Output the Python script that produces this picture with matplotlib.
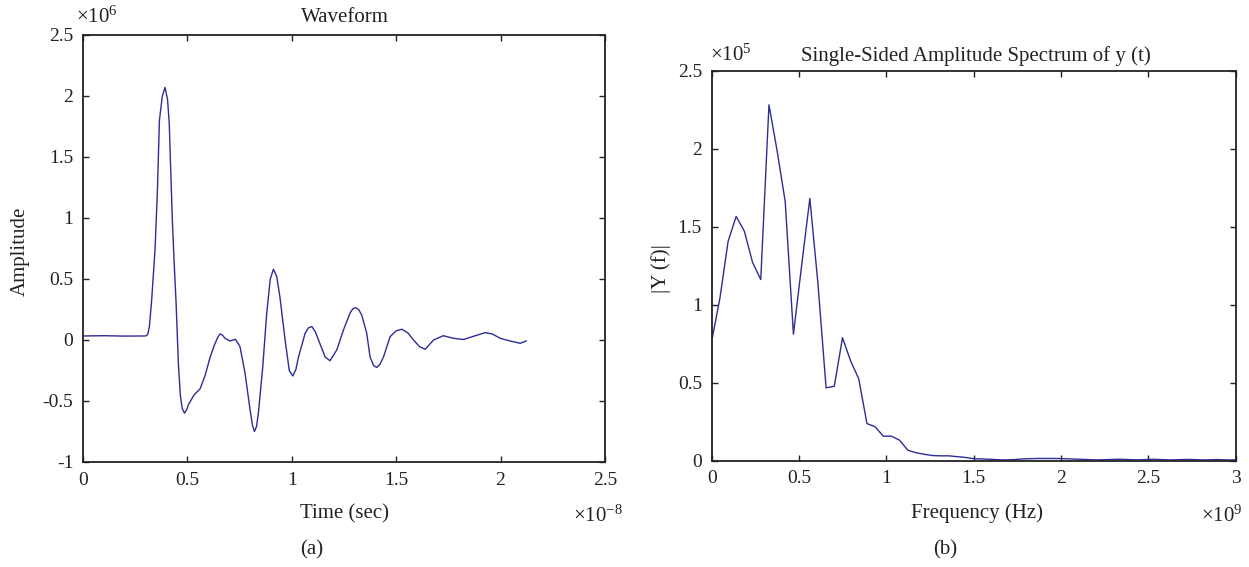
import matplotlib
matplotlib.use("Agg")
import matplotlib.pyplot as plt
from matplotlib.ticker import FuncFormatter

# Ustawienia czcionek (styl podobny do MATLAB-a / publikacji)
plt.rcParams["font.family"] = ["Liberation Serif", "DejaVu Serif"]
plt.rcParams["mathtext.fontset"] = "custom"
plt.rcParams["mathtext.rm"] = "Liberation Serif"
plt.rcParams["mathtext.default"] = "regular"
plt.rcParams["axes.unicode_minus"] = False

line_color = "#2d2d96"

# Przebieg czasowy: czas [x1e-8 s], amplituda [x1e6]
time_s = [0.0, 0.1, 0.2, 0.30, 0.31, 0.318, 0.329, 0.345, 0.356, 0.366, 0.38, 0.393,
          0.405, 0.413, 0.420, 0.428, 0.437, 0.446, 0.457, 0.466, 0.475, 0.486, 0.497,
          0.505, 0.532, 0.561, 0.585, 0.609, 0.632, 0.645, 0.656, 0.668, 0.68, 0.704,
          0.73, 0.752, 0.776, 0.80, 0.812, 0.821, 0.831, 0.84, 0.861, 0.88, 0.897,
          0.912, 0.928, 0.943, 0.968, 0.988, 1.005, 1.02, 1.032, 1.064, 1.08, 1.096,
          1.112, 1.128, 1.16, 1.183, 1.216, 1.247, 1.279, 1.292, 1.305, 1.32, 1.335,
          1.359, 1.375, 1.392, 1.407, 1.422, 1.439, 1.471, 1.5, 1.527, 1.555, 1.583,
          1.612, 1.639, 1.679, 1.726, 1.774, 1.822, 1.87, 1.926, 1.96, 1.998, 2.05,
          2.094, 2.123]
amplitude = [0.033, 0.035, 0.032, 0.033, 0.045, 0.11, 0.33, 0.74, 1.2, 1.80, 2.0, 2.07,
             1.97, 1.78, 1.40, 0.98, 0.62, 0.30, -0.20, -0.45, -0.56, -0.60, -0.57,
             -0.53, -0.45, -0.40, -0.29, -0.14, -0.03, 0.02, 0.05, 0.04, 0.014, -0.008,
             0.006, -0.055, -0.27, -0.57, -0.70, -0.75, -0.71, -0.60, -0.22, 0.22, 0.50,
             0.58, 0.52, 0.355, 0.0, -0.25, -0.295, -0.24, -0.14, 0.055, 0.10, 0.11,
             0.07, 0.0, -0.14, -0.17, -0.08, 0.08, 0.22, 0.255, 0.265, 0.25, 0.205,
             0.055, -0.14, -0.21, -0.225, -0.2, -0.14, 0.027, 0.075, 0.088, 0.06, 0.0,
             -0.055, -0.076, 0.0, 0.035, 0.014, 0.004, 0.03, 0.06, 0.05, 0.014, -0.01,
             -0.027, -0.008]

# Widmo amplitudowe: częstotliwość [x1e9 Hz], |Y(f)| [x1e5]
freq_hz = [0.0, 0.047, 0.094, 0.140, 0.187, 0.234, 0.281, 0.328, 0.374, 0.421,
           0.468, 0.515, 0.562, 0.608, 0.655, 0.702, 0.749, 0.796, 0.842, 0.889,
           0.936, 0.983, 1.030, 1.076, 1.123, 1.170, 1.217, 1.264, 1.310, 1.357,
           1.404, 1.451, 1.498, 1.544, 1.591, 1.638, 1.685, 1.732, 1.778, 1.825,
           1.872, 1.919, 1.966, 2.012, 2.059, 2.106, 2.153, 2.200, 2.246, 2.293,
           2.340, 2.387, 2.434, 2.480, 2.527, 2.574, 2.621, 2.668, 2.714, 2.761,
           2.808, 2.855, 2.902, 2.948, 2.995, 3.042]
spectrum = [0.765, 1.04, 1.405, 1.565, 1.47, 1.27, 1.16, 2.28, 1.99, 1.66,
            0.81, 1.25, 1.68, 1.14, 0.466, 0.476, 0.787, 0.637, 0.524, 0.237,
            0.216, 0.156, 0.156, 0.13, 0.066, 0.05, 0.04, 0.032, 0.03, 0.03,
            0.025, 0.02, 0.012, 0.01, 0.008, 0.005, 0.004, 0.006, 0.01, 0.012,
            0.013, 0.013, 0.013, 0.012, 0.01, 0.008, 0.006, 0.004, 0.005, 0.007,
            0.008, 0.006, 0.004, 0.006, 0.008, 0.006, 0.004, 0.005, 0.007, 0.006,
            0.004, 0.005, 0.006, 0.004, 0.004, 0.004]

wave_xticks = [0, 0.5, 1, 1.5, 2, 2.5]
wave_yticks = [-1, -0.5, 0, 0.5, 1, 1.5, 2, 2.5]
spec_xticks = [0, 0.5, 1, 1.5, 2, 2.5, 3]
spec_yticks = [0, 0.5, 1, 1.5, 2, 2.5]

fmt = FuncFormatter(lambda v, pos: "%g" % v)


def style_axes(ax):
    ax.tick_params(direction="in", length=4, width=1.0, top=True, right=True,
                   labelsize=14, colors="#222222")
    ax.tick_params(axis="y", pad=7)
    ax.tick_params(axis="x", pad=7)
    for s in ax.spines.values():
        s.set_linewidth(1.3)
        s.set_color("#222222")
    ax.xaxis.set_major_formatter(fmt)
    ax.yaxis.set_major_formatter(fmt)


fig = plt.figure(figsize=(12.49, 5.67), dpi=100)

# (a) przebieg
ax1 = fig.add_axes([0.06645, 0.1852, 0.4179, 0.7531])
ax1.plot(time_s, amplitude, color=line_color, linewidth=1.0)
ax1.set_xlim(0, 2.5)
ax1.set_ylim(-1, 2.5)
ax1.set_xticks(wave_xticks)
ax1.set_yticks(wave_yticks)
style_axes(ax1)

# (b) widmo
ax2 = fig.add_axes([0.5698, 0.1878, 0.4195, 0.6878])
ax2.plot(freq_hz, spectrum, color=line_color, linewidth=1.0)
ax2.set_xlim(0, 3)
ax2.set_ylim(0, 2.5)
ax2.set_xticks(spec_xticks)
ax2.set_yticks(spec_yticks)
style_axes(ax2)

txt = dict(fontsize=15, color="#222222")
fig.text(0.2762, 0.970, "Waveform", ha="center", va="center", **txt)
fig.text(0.0610, 0.970, "×10$^{6}$", ha="left", va="center", **txt)
fig.text(0.016, 0.557, "Amplitude", ha="center", va="center", rotation=90, **txt)
fig.text(0.2762, 0.0935, "Time (sec)", ha="center", va="center", **txt)
fig.text(0.4588, 0.0900, "×10$^{-8}$", ha="left", va="center", **txt)
fig.text(0.2498, 0.030, "(a)", ha="center", va="center", **txt)

fig.text(0.7814, 0.901, "Single-Sided Amplitude Spectrum of y (t)", ha="center", va="center", **txt)
fig.text(0.5685, 0.903, "×10$^{5}$", ha="left", va="center", **txt)
fig.text(0.5292, 0.527, "|Y (f)|", ha="center", va="center", rotation=90, **txt)
fig.text(0.7822, 0.095, "Frequency (Hz)", ha="center", va="center", **txt)
fig.text(0.9616, 0.090, "×10$^{9}$", ha="left", va="center", **txt)
fig.text(0.7566, 0.030, "(b)", ha="center", va="center", **txt)

fig.savefig("out.png", dpi=100)
plt.close(fig)
